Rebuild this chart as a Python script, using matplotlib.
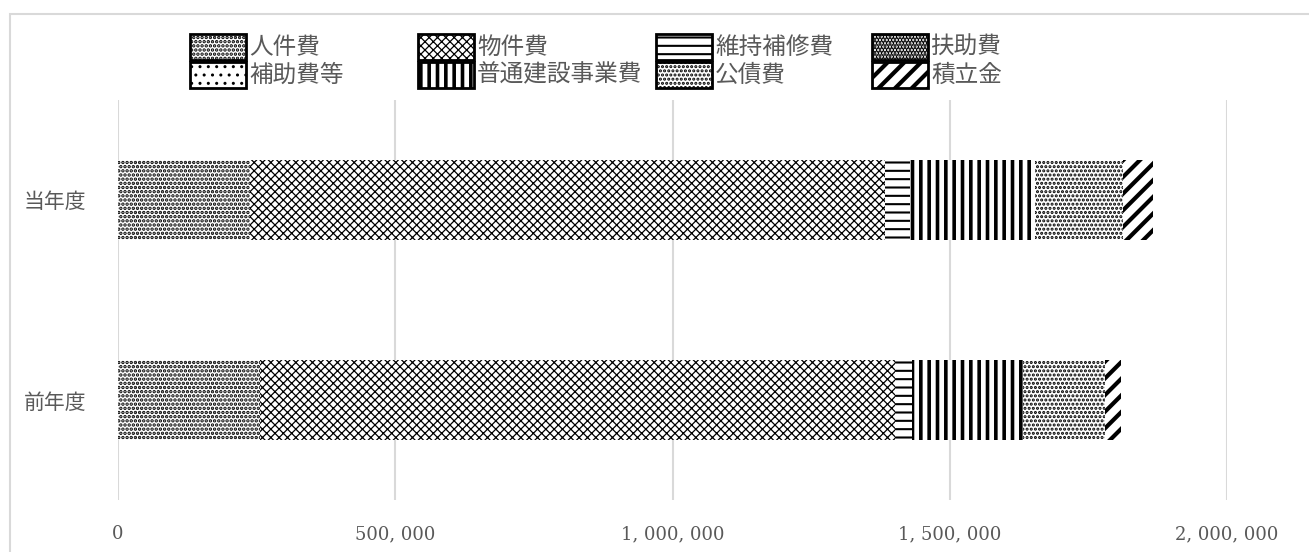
import matplotlib.pyplot as plt
from matplotlib.patches import Rectangle
from matplotlib.ticker import FuncFormatter

plt.rcParams['font.family'] = ['Noto Sans CJK JP', 'DejaVu Sans']

# 年度と費目ごとの金額
years = ['前年度', '当年度']
items = ['人件費', '物件費', '維持補修費', '扶助費',
         '補助費等', '普通建設事業費', '公債費', '積立金']
jinkenhi = [256000, 238000]
bukkenhi = [1145000, 1145000]
iji_hoshuhi = [31000, 45000]
fujohi = [0, 0]
hojohi_to = [0, 0]
futsu_kensetsu = [200000, 225000]
kosaihi = [148000, 159000]
tsumitatekin = [29000, 54000]
xticks = [0, 500000, 1000000, 1500000, 2000000]

values = [jinkenhi, bukkenhi, iji_hoshuhi, fujohi,
          hojohi_to, futsu_kensetsu, kosaihi, tsumitatekin]

# 費目ごとの網掛け (模様, 線幅)
hatches = [('....', 1.7), ('xxxx', 0.9), ('--', 1.5), ('.....', 2.2),
           ('..', 1.0), ('||', 2.6), ('....', 1.5), ('//', 3.0)]

W, H = 1309, 552
fig = plt.figure(figsize=(W / 100, H / 100), dpi=100)
ax = fig.add_axes([118 / W, 1 - 500 / H, (1227 - 118) / W, 400 / H])

grey = '#595959'
left = [0, 0]
for name, vals, (hat, hlw) in zip(items, values, hatches):
    bars = ax.barh(years, vals, left=left, height=0.4, color='white',
                   hatch=hat, linewidth=0, zorder=2)
    for b in bars:
        b.set_hatch_linewidth(hlw)
    left = [l + v for l, v in zip(left, vals)]

ax.set_xlim(0, 2000000)
ax.set_ylim(-0.5, 1.5)
ax.set_xticks(xticks)
ax.xaxis.set_major_formatter(FuncFormatter(lambda v, p: f'{int(v):,}'.replace(',', ', ')))
ax.grid(axis='x', color='#d9d9d9', linewidth=1.5, zorder=0)
ax.tick_params(length=0, colors=grey, pad=18)
ax.tick_params(axis='y', labelsize=15, pad=23)
for lab in ax.get_xticklabels():
    lab.set_fontfamily('DejaVu Serif')
    lab.set_fontsize(13)
for s in ax.spines.values():
    s.set_visible(False)

# 凡例 (4列×2行)
col_x = [190, 418, 656, 872]
row_y = [47, 75]
pw, ph = 56, 26
for i, (name, (hat, hlw)) in enumerate(zip(items, hatches)):
    x = col_x[i % 4]
    y = row_y[i // 4]
    r = Rectangle((x / W, 1 - (y + ph / 2) / H), pw / W, ph / H,
                  transform=fig.transFigure, facecolor='white',
                  edgecolor='black', hatch=hat, linewidth=2)
    r.set_hatch_linewidth(hlw)
    fig.add_artist(r)
    fig.text((x + pw + 3) / W, 1 - y / H, name, color=grey,
             fontsize=17, va='center', ha='left')

# 図全体の枠
fig.add_artist(Rectangle((10 / W, -0.1), 1.1, 1.1 - 14 / H,
                         transform=fig.transFigure, fill=False,
                         edgecolor='#d9d9d9', linewidth=1.5))

fig.savefig('out.png', dpi=100)
